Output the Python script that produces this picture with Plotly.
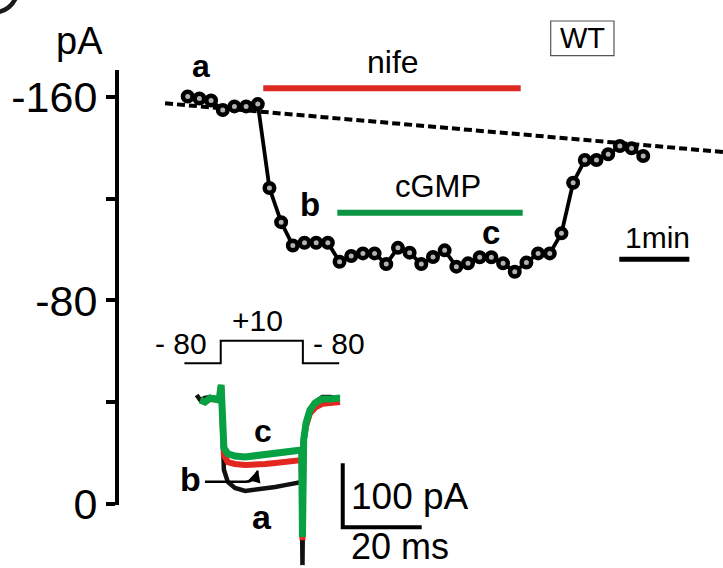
import plotly.graph_objects as go

W, H = 723, 568
FONT = "Liberation Sans, Arial, sans-serif"

# ---- time course of the whole-cell current (one sweep every 10 s) ----
time_s = [0, 10, 20, 30, 40, 50, 60, 70, 80, 90, 100, 110, 120, 130, 140, 150,
          160, 170, 180, 190, 200, 210, 220, 230, 240, 250, 260, 270, 280, 290,
          300, 310, 320, 330, 340, 350, 360, 370, 380, 390]
current_pA = [-160.2, -159.4, -158.6, -154.9, -156.3, -156.3, -157.2, -124.2,
              -110.8, -101.6, -102.7, -102.7, -102.7, -95.2, -97.5, -98.5,
              -98.5, -94.3, -100.7, -98.8, -94.3, -97.1, -99.7, -93.3, -94.6,
              -97.0, -97.0, -94.6, -91.3, -94.9, -98.5, -98.5, -106.4, -126.3,
              -135.2, -135.2, -137.5, -140.7, -139.8, -136.8]

# run-down baseline
baseline_t = [-19.4, 470.0]
baseline_pA = [-157.5, -137.9]

# drug application periods
nife_t = [64.7, 285.1]
nife_level = -163.4
cgmp_t = [128.1, 286.8]
cgmp_level = -114.5

# 1 min time bar
minbar_t = [369.5, 429.5]
minbar_level = -96.2

# y-axis ticks
ytick_vals = [-160, -120, -80, -40, 0]
ytick_text = ["-160", "", "-80", "", "0"]

# ---- inset: current traces at a, b, c (ms, pA relative to holding) ----
trace_a_t = [-6.1, -5.2, -4.0, -2.7, -1.4, -0.4, 0.1, 0.8, 1.8, 3.6, 6.2, 8.7,
             11.2, 13.8, 16.3, 18.8, 20.1, 20.5, 20.7, 21.0, 21.6, 22.6, 23.9,
             25.7, 27.7, 30.2]
trace_a_I = [7.8, 0.0, 3.1, 4.7, 3.1, 0.0, 23.4, -109.0, -128.0, -137.5, -142.0,
             -140.6, -139.0, -136.0, -133.0, -130.0, -128.0, -128.0, -258.0,
             -70.0, -39.0, -15.6, -3.1, 4.7, 4.7, 3.1]

trace_b_t = [-5.2, -4.0, -2.7, -1.4, -0.4, 0.1, 0.8, 1.8, 3.6, 6.2, 8.7, 11.2,
             13.8, 16.3, 18.8, 20.1, 20.5, 20.7, 21.0, 21.6, 22.6, 23.9, 25.7,
             27.7, 30.2]
trace_b_I = [0.0, -3.1, 1.6, 0.0, 0.0, 23.4, -86.0, -97.0, -100.0, -101.6,
             -101.6, -100.0, -98.4, -96.9, -95.3, -93.8, -93.8, -219.0, -62.0,
             -40.6, -21.0, -12.0, -6.0, -4.7, -3.0]

trace_c_t = [-5.2, -4.0, -2.7, -1.4, -0.4, 0.1, 0.3, 0.8, 1.8, 3.6, 6.2, 8.7,
             11.2, 13.8, 16.3, 18.8, 20.1, 20.5, 20.7, 21.0, 21.6, 22.6, 23.9,
             25.7, 27.7, 30.2]
trace_c_I = [0.0, -3.1, 3.1, 1.6, 0.0, 23.4, -31.0, -75.0, -84.0, -87.5, -89.0,
             -87.5, -86.0, -84.0, -83.0, -81.0, -80.0, -78.0, -214.0, -62.5,
             -36.0, -15.6, -4.7, 1.6, 1.6, 3.1]

# voltage protocol (mV)
protocol_t = [-9.2, 0.0, 20.8, 30.0]
protocol_mV = [-80, 10, -80, -80]

# inset scale bars: 20 ms / 100 pA
scale_t = [30.9, 30.9, 50.9]
scale_I = [-98.9, -198.9, -198.9]

RED = "#e3261f"
GREEN = "#07a043"
BAR_RED = "#dc2a22"
BAR_GREEN = "#0b9444"

fig = go.Figure()

# main time course
fig.add_trace(go.Scatter(x=baseline_t, y=baseline_pA, mode="lines",
                         line=dict(color="black", width=4, dash="8px,4px"),
                         xaxis="x", yaxis="y"))
fig.add_trace(go.Scatter(x=nife_t, y=[nife_level] * 2, mode="lines",
                         line=dict(color=BAR_RED, width=6), xaxis="x", yaxis="y"))
fig.add_trace(go.Scatter(x=cgmp_t, y=[cgmp_level] * 2, mode="lines",
                         line=dict(color=BAR_GREEN, width=6), xaxis="x", yaxis="y"))
fig.add_trace(go.Scatter(x=minbar_t, y=[minbar_level] * 2, mode="lines",
                         line=dict(color="black", width=5), xaxis="x", yaxis="y"))
fig.add_trace(go.Scatter(x=time_s, y=current_pA, mode="lines+markers",
                         line=dict(color="black", width=3.8),
                         marker=dict(size=9.5, color="#b2b2b2",
                                     line=dict(color="black", width=4.5)),
                         xaxis="x", yaxis="y"))

# inset traces (wide strokes stand in for the recording noise band)
fig.add_trace(go.Scatter(x=trace_a_t, y=trace_a_I, mode="lines",
                         line=dict(color="#111111", width=4.5),
                         xaxis="x2", yaxis="y2"))
fig.add_trace(go.Scatter(x=trace_b_t, y=trace_b_I, mode="lines",
                         line=dict(color=RED, width=6),
                         xaxis="x2", yaxis="y2"))
fig.add_trace(go.Scatter(x=trace_c_t, y=trace_c_I, mode="lines",
                         line=dict(color=GREEN, width=7),
                         xaxis="x2", yaxis="y2"))
fig.add_trace(go.Scatter(x=scale_t, y=scale_I, mode="lines",
                         line=dict(color="black", width=4),
                         xaxis="x2", yaxis="y2"))
fig.add_trace(go.Scatter(x=protocol_t, y=protocol_mV, mode="lines",
                         line=dict(color="black", width=2, shape="hv"),
                         xaxis="x2", yaxis="y3"))


def label(text, x, base, size, anchor="center", bold=False, color="black"):
    """Place text by its baseline, in pixel units of the page."""
    y = base + 0.212 * size + 1
    return dict(text=f"<b>{text}</b>" if bold else text, xref="paper", yref="paper",
                x=x / W, y=1 - y / H, xanchor=anchor, yanchor="bottom",
                showarrow=False, font=dict(family=FONT, size=size, color=color))


def pp(x, y):
    """Page pixels to paper coordinates."""
    return f"{x / W:.5f},{1 - y / H:.5f}"


annotations = [
    label("pA", 79, 55, 38),
    label("nife", 392.8, 74, 32),
    label("cGMP", 437.8, 198.5, 31),
    label("WT", 582.3, 49, 29),
    label("1min", 657, 248.3, 30),
    label("a", 201, 78.3, 32, bold=True),
    label("b", 309.5, 216.7, 33, bold=True),
    label("c", 490.5, 245, 33, bold=True),
    label("- 80", 181, 355, 30),
    label("+10", 257.5, 331.7, 30),
    label("- 80", 338.8, 355, 30),
    label("c", 262.8, 443.3, 32, bold=True),
    label("b", 190, 491.7, 34, bold=True),
    label("a", 262, 530, 34, bold=True),
    label("100 pA", 349, 510, 37, anchor="left"),
    label("20 ms", 349, 560, 36, anchor="left"),
    # arrowhead from label b to trace b
    dict(x=9.45, y=-109.0, xref="x2", yref="y2", ax=-3, ay=10, text="",
         showarrow=True, arrowhead=2, arrowsize=1, arrowwidth=2.5,
         arrowcolor="black"),
]

shapes = [
    dict(type="rect", xref="paper", yref="paper",
         x0=550.7 / W, x1=614 / W, y0=1 - 55.7 / H, y1=1 - 21 / H,
         line=dict(color="#555555", width=1.2)),
    dict(type="path", xref="x2", yref="y2",
         path="M -4.0,-127.7 L 6.3,-127.7 Q 8.8,-127.7 9.3,-111",
         line=dict(color="black", width=2.5)),
    # corner of the panel letter
    dict(type="path", xref="paper", yref="paper",
         path=f"M {pp(-12.7, 11.6)} Q {pp(9.6, 15.5)} {pp(17.4, -5.8)}",
         line=dict(color="#1a1a1a", width=4.5)),
]

hidden = dict(visible=False, automargin=False, showgrid=False, zeroline=False)

fig.update_layout(
    template="none",
    width=W, height=H, autosize=False,
    margin=dict(l=0, r=0, t=0, b=0, pad=0, autoexpand=False),
    paper_bgcolor="white", plot_bgcolor="rgba(0,0,0,0)",
    showlegend=False,
    font=dict(family=FONT, color="black"),
    xaxis=dict(domain=[0, 1], range=[-160.7, 458.3], anchor="y", **hidden),
    yaxis=dict(domain=[63 / H, 498 / H], range=[0.39, -170.6], anchor="free",
               position=116.7 / W, showline=True, linecolor="black", linewidth=3.5,
               ticks="outside", ticklen=9, tickwidth=3.5, tickcolor="black",
               tickvals=ytick_vals, ticktext=ytick_text,
               tickfont=dict(family=FONT, size=43, color="black"),
               ticklabelstandoff=0, showgrid=False, zeroline=False,
               automargin=False),
    xaxis2=dict(domain=[0, 1], range=[-55.9, 127.2], anchor="y2", **hidden),
    yaxis2=dict(domain=[0, 1], range=[-262.5, 625], anchor="x2", **hidden),
    yaxis3=dict(range=[-895.2, 1366.8], overlaying="y2", anchor="x2", **hidden),
    annotations=annotations,
    shapes=shapes,
)

fig.write_html("out.html")
